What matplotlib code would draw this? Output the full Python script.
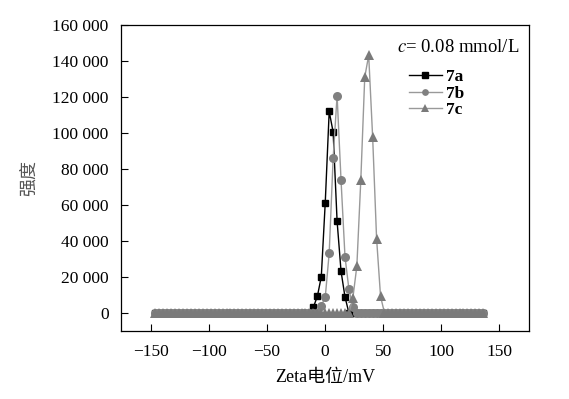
import matplotlib
matplotlib.use("Agg")
import matplotlib.pyplot as plt
import matplotlib.ticker as mticker

plt.rcParams['font.family'] = ['Liberation Serif', 'Noto Sans CJK SC']
plt.rcParams['mathtext.fontset'] = 'stix'
plt.rcParams['axes.unicode_minus'] = True

# zeta potential grid (mV)
zeta = [-146.0, -142.6, -139.2, -135.8, -132.4, -129.0, -125.6, -122.2, -118.8, -115.4,
        -112.0, -108.6, -105.2, -101.8, -98.4, -95.0, -91.6, -88.2, -84.8, -81.4,
        -78.0, -74.6, -71.2, -67.8, -64.4, -61.0, -57.6, -54.2, -50.8, -47.4,
        -44.0, -40.6, -37.2, -33.8, -30.4, -27.0, -23.6, -20.2, -16.8, -13.4,
        -10.0, -6.6, -3.2, 0.2, 3.6, 7.0, 10.4, 13.8, 17.2, 20.6,
        24.0, 27.4, 30.8, 34.2, 37.6, 41.0, 44.4, 47.8, 51.2, 54.6,
        58.0, 61.4, 64.8, 68.2, 71.6, 75.0, 78.4, 81.8, 85.2, 88.6,
        92.0, 95.4, 98.8, 102.2, 105.6, 109.0, 112.4, 115.8, 119.2, 122.6,
        126.0, 129.4, 132.8, 136.2]

# intensity, zero everywhere except around the peaks
int_7a = [0] * 40 + [3300, 9200, 20200, 61300, 112000, 100500, 51000, 23200, 8900, 0] + [0] * 34
int_7b = [0] * 42 + [4000, 8800, 33300, 86000, 120800, 73700, 31300, 13100, 3500] + [0] * 33
int_7c = [0] * 49 + [0, 8500, 26000, 73700, 131000, 143200, 97800, 41300, 9300] + [0] * 26

labels = ["7a", "7b", "7c"]

fig = plt.figure(figsize=(5.69, 3.99), dpi=100)
ax = fig.add_axes([0.2127, 0.1704, 0.9297 - 0.2127, 0.9373 - 0.1704])

ax.plot(zeta, int_7a, color="black", marker="s", markersize=5, linewidth=1.0, label=labels[0])
ax.plot(zeta, int_7b, color="#999999", marker="o", markersize=6.5, linewidth=1.0,
        markerfacecolor="#808080", markeredgewidth=0, label=labels[1])
ax.plot(zeta, int_7c, color="#999999", marker="^", markersize=7, linewidth=1.0,
        markerfacecolor="#7a7a7a", markeredgewidth=0, label=labels[2])

ax.set_xlim(-175.6, 175.6)
ax.set_ylim(-10000, 160000)
ax.set_xticks([-150, -100, -50, 0, 50, 100, 150])
ax.set_yticks(range(0, 160001, 20000))
ax.yaxis.set_major_formatter(mticker.FuncFormatter(lambda v, p: f"{int(v):,}".replace(",", " ")))
ax.tick_params(direction="in", length=5, width=0.8, labelsize=12.5)
ax.tick_params(axis="x", pad=9)
ax.tick_params(axis="y", pad=9)
for s in ax.spines.values():
    s.set_linewidth(0.9)

ax.set_xlabel("Zeta电位/mV", fontsize=13, labelpad=7)
ax.set_ylabel("强度", fontsize=13, color="#555555", labelpad=10)

ax.text(0.676, 0.925, r"$c$= 0.08 mmol/L", transform=ax.transAxes, fontsize=13.5,
        ha="left", va="center")
leg = ax.legend(loc="upper left", bbox_to_anchor=(0.675, 0.895), frameon=False,
                prop={"weight": "bold", "size": 12.5}, handlelength=1.9, markerscale=0.75,
                handletextpad=0.25, labelspacing=0.0, borderpad=0.2)

fig.savefig("out.png", dpi=100)
